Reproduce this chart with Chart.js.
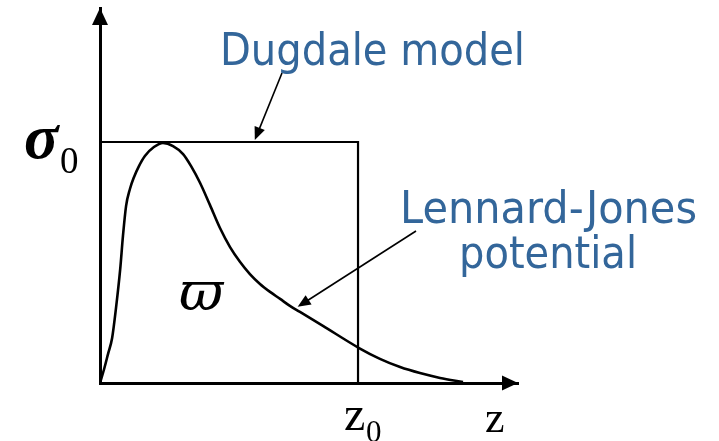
<!DOCTYPE html>
<html>
<head>
<meta charset="utf-8">
<script src="https://cdn.jsdelivr.net/npm/chart.js@4.4.1/dist/chart.umd.min.js"></script>
<style>
  body { margin: 0; background: #fff; }
  canvas { display: block; }
</style>
</head>
<body>
<canvas id="grafico" width="719" height="441"></canvas>
<script>
// Separação normalizada z/z0 e tensão normalizada sigma/sigma0
const zLJ = [0, 0.016, 0.031, 0.047, 0.062, 0.078, 0.089, 0.101, 0.116, 0.132, 0.151, 0.174,
  0.209, 0.244, 0.283, 0.322, 0.353, 0.388, 0.426, 0.465, 0.504, 0.543, 0.581, 0.620,
  0.659, 0.698, 0.736, 0.775, 0.864, 1.004, 1.085, 1.163, 1.240, 1.318, 1.407];
const sigmaLJ = [0, 0.058, 0.120, 0.187, 0.311, 0.469, 0.610, 0.734, 0.805, 0.855, 0.900, 0.942,
  0.979, 0.996, 0.983, 0.950, 0.900, 0.830, 0.739, 0.643, 0.564, 0.502, 0.452, 0.411,
  0.378, 0.349, 0.320, 0.295, 0.237, 0.145, 0.100, 0.066, 0.041, 0.021, 0.004];

// Modelo de Dugdale: tensão constante sigma0 até z0
const zDugdale = [0, 0, 1, 1];
const sigmaDugdale = [0, 1, 1, 0];

// Limites dos eixos
const zMax = 1.62;
const sigmaMax = 1.556;

const azul = '#33669a';

function pontos(xs, ys) {
  return xs.map((x, i) => ({ x: x, y: ys[i] }));
}

// Desenha uma seta cheia apontando para (x2, y2)
function seta(ctx, x1, y1, x2, y2, comp, larg) {
  const ang = Math.atan2(y2 - y1, x2 - x1);
  ctx.beginPath();
  ctx.moveTo(x1, y1);
  ctx.lineTo(x2 - Math.cos(ang) * comp * 0.8, y2 - Math.sin(ang) * comp * 0.8);
  ctx.stroke();
  ponta(ctx, x2, y2, ang, comp, larg);
}

function ponta(ctx, x, y, ang, comp, larg) {
  ctx.beginPath();
  ctx.moveTo(x, y);
  ctx.lineTo(x - Math.cos(ang) * comp - Math.sin(ang) * larg, y - Math.sin(ang) * comp + Math.cos(ang) * larg);
  ctx.lineTo(x - Math.cos(ang) * comp + Math.sin(ang) * larg, y - Math.sin(ang) * comp - Math.cos(ang) * larg);
  ctx.closePath();
  ctx.fill();
}

// Setas dos eixos, rótulos e anotações
const anotacoes = {
  id: 'anotacoes',
  afterDraw(chart) {
    const { ctx, scales } = chart;
    const sx = scales.x, sy = scales.y;
    const x0 = sx.getPixelForValue(0), y0 = sy.getPixelForValue(0);
    const xFim = sx.getPixelForValue(zMax), yFim = sy.getPixelForValue(sigmaMax);

    ctx.save();
    ctx.fillStyle = '#000';
    ctx.strokeStyle = '#000';

    // pontas dos eixos
    ponta(ctx, x0, yFim, -Math.PI / 2, 17, 8);
    ponta(ctx, xFim, y0, 0, 16, 7.5);

    // setas das legendas
    ctx.lineWidth = 1.6;
    seta(ctx, 282, 73, sx.getPixelForValue(0.6), sy.getPixelForValue(1) - 2, 13, 5.5);
    seta(ctx, 416, 231, sx.getPixelForValue(0.766), sy.getPixelForValue(0.316), 13, 5.5);

    // textos em azul
    ctx.fillStyle = azul;
    ctx.font = '45px "DejaVu Sans"';
    ctx.textBaseline = 'alphabetic';
    ctx.textAlign = 'left';
    ctx.fillText('Dugdale model', 220, 65, 305);
    ctx.fillText('Lennard-Jones', 400, 223, 297);
    ctx.fillText('potential', 459, 268, 178);

    // símbolos
    ctx.fillStyle = '#000';
    ctx.font = 'bold italic 64px "Liberation Serif"';
    ctx.fillText('σ', 24, 158);
    ctx.font = '37px "Liberation Serif"';
    ctx.fillText('0', 60, 173);

    ctx.font = 'italic 54px "DejaVu Serif"';
    ctx.fillText('ϖ', 179, 310);

    ctx.font = '48px "Liberation Serif"';
    ctx.fillText('z', 344, 430);
    ctx.font = '44px "Liberation Serif"';
    ctx.fillText('z', 485, 432);
    ctx.font = '31px "Liberation Serif"';
    ctx.fillText('0', 366, 442);

    ctx.restore();
  }
};

const ctx = document.getElementById('grafico').getContext('2d');
const grafico = new Chart(ctx, {
  type: 'line',
  data: {
    datasets: [
      {
        label: 'Dugdale model',
        data: pontos(zDugdale, sigmaDugdale),
        borderColor: '#000',
        borderWidth: 2.2,
        pointRadius: 0,
        tension: 0,
        fill: false
      },
      {
        label: 'Lennard-Jones potential',
        data: pontos(zLJ, sigmaLJ),
        borderColor: '#000',
        borderWidth: 2.6,
        pointRadius: 0,
        cubicInterpolationMode: 'monotone',
        fill: false
      }
    ]
  },
  options: {
    responsive: false,
    animation: false,
    layout: { padding: { left: 100, right: 201, top: 8, bottom: 58 } },
    plugins: {
      legend: { display: false },
      tooltip: { enabled: false }
    },
    scales: {
      x: {
        type: 'linear',
        min: 0,
        max: zMax,
        grid: { display: false, drawTicks: false },
        ticks: { display: false },
        border: { display: true, color: '#000', width: 3 }
      },
      y: {
        type: 'linear',
        min: 0,
        max: sigmaMax,
        grid: { display: false, drawTicks: false },
        ticks: { display: false },
        border: { display: true, color: '#000', width: 3 }
      }
    }
  },
  plugins: [anotacoes]
});
</script>
</body>
</html>
